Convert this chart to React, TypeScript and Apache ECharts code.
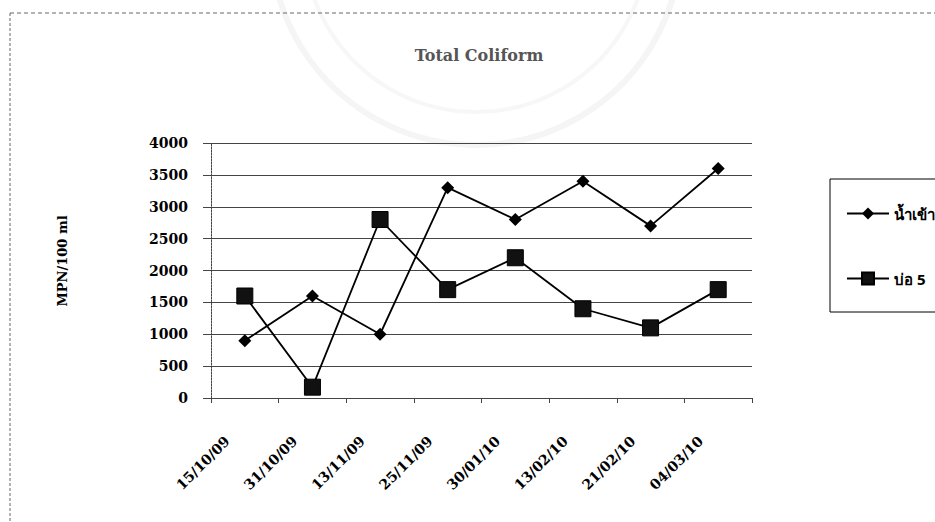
import React, { useEffect, useRef } from "react";
import * as echarts from "echarts";

// Sampling dates
const dates = [
  "15/10/09",
  "31/10/09",
  "13/11/09",
  "25/11/09",
  "30/01/10",
  "13/02/10",
  "21/02/10",
  "04/03/10",
];

// Total coliform (MPN/100 ml)
const inflow = [900, 1600, 1000, 3300, 2800, 3400, 2700, 3600];
const pond5 = [1600, 170, 2800, 1700, 2200, 1400, 1100, 1700];

const seriesNames = ["น้ำเข้า", "บ่อ 5"];
const yTicks = [0, 500, 1000, 1500, 2000, 2500, 3000, 3500, 4000];

const serif = "'DejaVu Serif', 'Liberation Serif', serif";

export default function App() {
  const ref = useRef<HTMLDivElement>(null);

  useEffect(() => {
    if (!ref.current) return;
    const chart = echarts.init(ref.current, undefined, { renderer: "svg" });
    chart.setOption({
      animation: false,
      backgroundColor: "#ffffff",
      title: {
        text: "Total Coliform",
        left: 474,
        top: 42,
        textAlign: "center",
        textStyle: {
          fontFamily: serif,
          fontSize: 16,
          fontWeight: "bold",
          color: "#555",
        },
      },
      grid: { left: 211, right: 183, top: 143, bottom: 124 },
      legend: {
        left: 841,
        top: 201,
        orient: "vertical",
        itemWidth: 42,
        itemHeight: 15,
        itemGap: 50,
        data: seriesNames,
        textStyle: {
          fontFamily: "'Noto Sans', 'DejaVu Sans', sans-serif",
          fontSize: 15,
          lineHeight: 15,
          fontWeight: "bold",
          color: "#000",
        },
      },
      graphic: [
        // faint seal behind the title
        {
          type: "circle",
          silent: true,
          z: -10,
          shape: { cx: 476, cy: -60, r: 205 },
          style: { fill: "none", stroke: "#f5f5f5", lineWidth: 6 },
        },
        {
          type: "circle",
          silent: true,
          z: -10,
          shape: { cx: 476, cy: -60, r: 172 },
          style: { fill: "none", stroke: "#f7f7f7", lineWidth: 4 },
        },
        {
          type: "rect",
          shape: { x: 830, y: 179, width: 250, height: 133 },
          style: { fill: "none", stroke: "#000", lineWidth: 1 },
        },
        {
          type: "line",
          shape: { x1: 10, y1: 13, x2: 935, y2: 13 },
          style: { stroke: "#666", lineWidth: 1, lineDash: [4, 3] },
        },
        {
          type: "line",
          shape: { x1: 10, y1: 13, x2: 10, y2: 522 },
          style: { stroke: "#666", lineWidth: 1, lineDash: [3, 2] },
        },
        {
          type: "text",
          x: 62,
          y: 261,
          rotation: Math.PI / 2,
          style: {
            text: "MPN/100 ml",
            fontFamily: serif,
            fontSize: 13,
            fontWeight: "bold",
            fill: "#000",
            align: "center",
            verticalAlign: "middle",
          },
        },
      ],
      xAxis: {
        type: "category",
        data: dates,
        boundaryGap: true,
        axisLine: {
          lineStyle: { color: "#444", width: 1, type: [3, 2] },
        },
        axisTick: { show: true, length: 5, lineStyle: { color: "#444" } },
        axisLabel: {
          rotate: 45,
          margin: 23,
          padding: [0, 25, 0, 0],
          fontFamily: serif,
          fontSize: 14,
          fontWeight: "bold",
          color: "#000",
        },
      },
      yAxis: {
        type: "value",
        min: 0,
        max: 4000,
        interval: 500,
        axisLine: {
          show: true,
          lineStyle: { color: "#444", width: 1, type: [2, 1] },
        },
        axisTick: { show: true, length: 8, lineStyle: { color: "#444" } },
        axisLabel: {
          margin: 23,
          fontFamily: serif,
          fontSize: 14,
          fontWeight: "bold",
          color: "#000",
          customValues: yTicks,
          formatter: (v: number) => String(v),
        },
        splitLine: { lineStyle: { color: "#444", width: 1 } },
      },
      series: [
        {
          name: seriesNames[0],
          type: "line",
          data: inflow,
          symbol: "diamond",
          symbolSize: 13,
          itemStyle: { color: "#000" },
          lineStyle: { color: "#000", width: 1.8 },
        },
        {
          name: seriesNames[1],
          type: "line",
          data: pond5,
          symbol: "rect",
          symbolSize: 16,
          itemStyle: { color: "#111", borderColor: "#000", borderWidth: 1 },
          lineStyle: { color: "#000", width: 1.8 },
        },
      ],
    });
    return () => chart.dispose();
  }, []);

  return (
    <div
      ref={ref}
      style={{ position: "fixed", left: 0, top: 0, width: 935, height: 522 }}
    />
  );
}
